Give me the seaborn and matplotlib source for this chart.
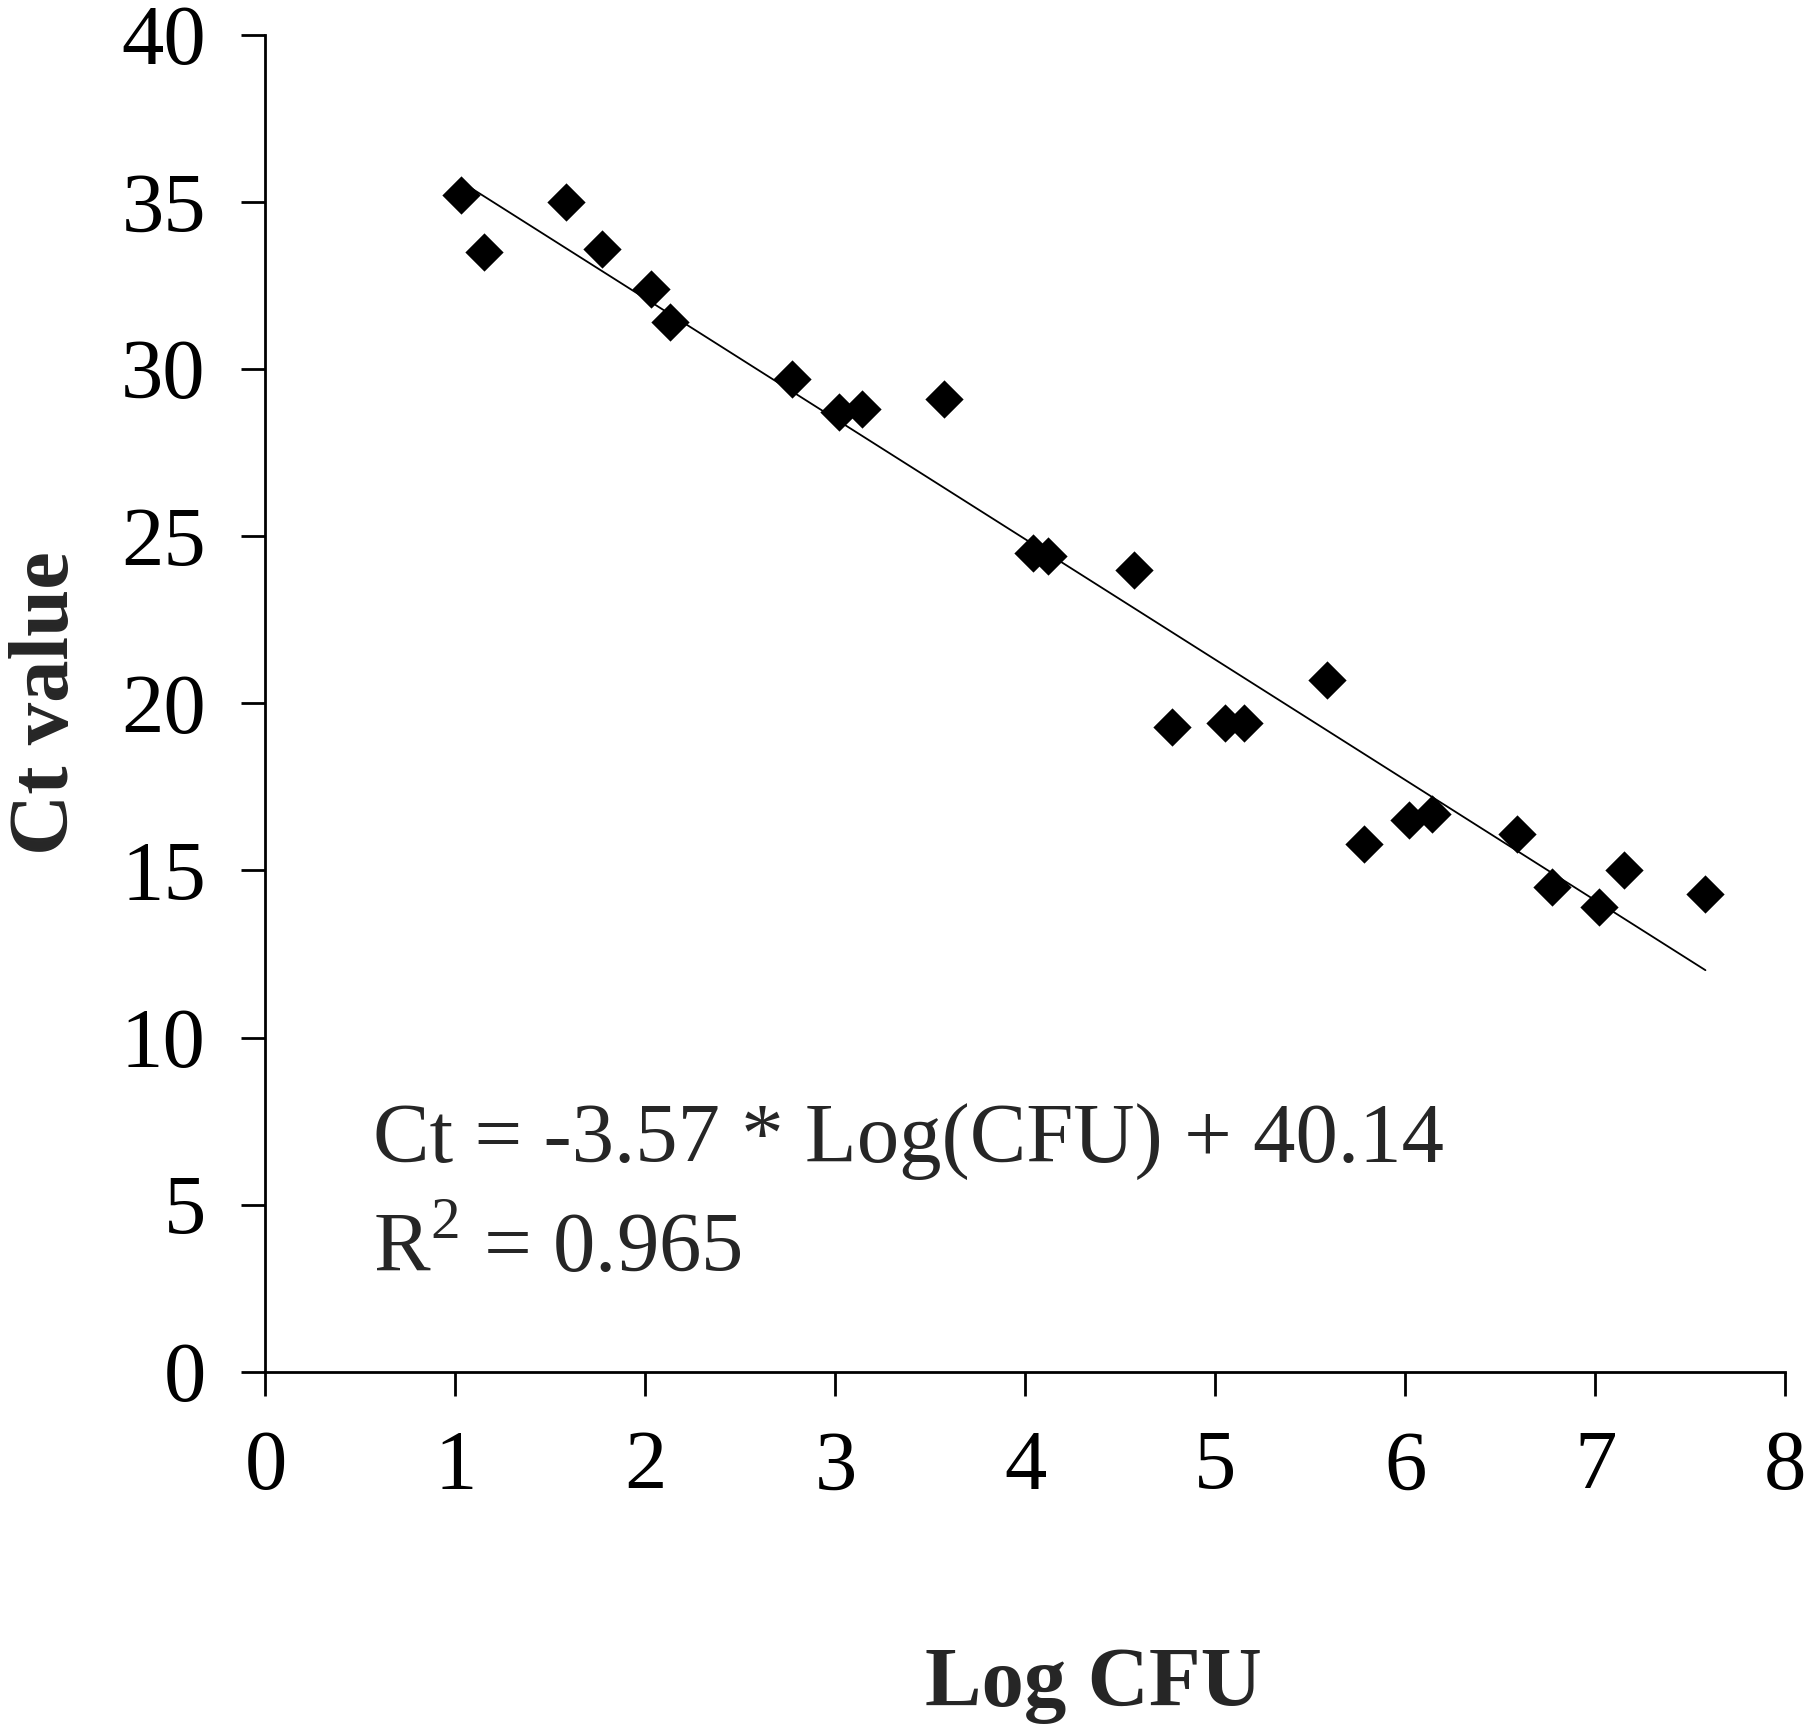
import numpy as np
import pandas as pd
import matplotlib
matplotlib.use("Agg")
import matplotlib.pyplot as plt
import seaborn as sns

# values
log_cfu = [1.03, 1.15, 1.58, 1.77, 2.03, 2.13, 2.77, 3.02, 3.14, 3.57,
           4.04, 4.12, 4.57, 4.77, 5.05, 5.15, 5.59, 5.78, 6.02, 6.14,
           6.59, 6.77, 7.02, 7.15, 7.58]
ct_value = [35.2, 33.5, 35.0, 33.6, 32.4, 31.4, 29.7, 28.7, 28.8, 29.1,
            24.5, 24.4, 24.0, 19.3, 19.4, 19.4, 20.7, 15.8, 16.5, 16.7,
            16.1, 14.5, 13.9, 15.0, 14.3]

x_ticks = [0, 1, 2, 3, 4, 5, 6, 7, 8]
y_ticks = [0, 5, 10, 15, 20, 25, 30, 35, 40]

equation_text = "Ct = -3.57 * Log(CFU) + 40.14"
r2_text = r"R$^{\mathrm{2}}$ = 0.965"

df = pd.DataFrame({"Log CFU": log_cfu, "Ct value": ct_value})

sns.set_style("ticks")
plt.rcParams["font.family"] = ["Liberation Serif", "DejaVu Serif"]
plt.rcParams["mathtext.fontset"] = "custom"
plt.rcParams["mathtext.rm"] = "Liberation Serif"

fs = 61

fig = plt.figure(figsize=(18.06, 17.30), dpi=100)
ax = fig.add_axes([0.147, 0.207, 0.8415, 0.773])

# scatter + least-squares trend line
sns.regplot(
    data=df, x="Log CFU", y="Ct value", ax=ax, ci=None,
    marker="D", color="black",
    scatter_kws={"s": 380, "linewidths": 0, "alpha": 1},
    line_kws={"lw": 1.3, "color": "black"},
)

ax.set_xlim(0, 8)
ax.set_ylim(0, 40)
ax.set_xticks(x_ticks)
ax.set_yticks(y_ticks)
sns.despine(ax=ax)
for side in ["left", "bottom"]:
    ax.spines[side].set_linewidth(2)
    ax.spines[side].set_color("black")
ax.tick_params(axis="both", direction="out", length=17, width=2,
               labelsize=fs, colors="black")
ax.tick_params(axis="y", pad=26)
ax.tick_params(axis="x", pad=25)

ax.set_xlabel("Log CFU", fontsize=fs, fontweight="bold")
ax.set_ylabel("Ct value", fontsize=fs, fontweight="bold")
ax.xaxis.set_label_coords(0.545, -0.206)
ax.yaxis.set_label_coords(-0.118, 0.5)

ax.text(0.071, 0.1725, equation_text, transform=ax.transAxes,
        fontsize=fs, va="center", ha="left")
ax.text(0.071, 0.09, r2_text, transform=ax.transAxes,
        fontsize=fs, va="center", ha="left")

fig.savefig("out.png", dpi=100)
